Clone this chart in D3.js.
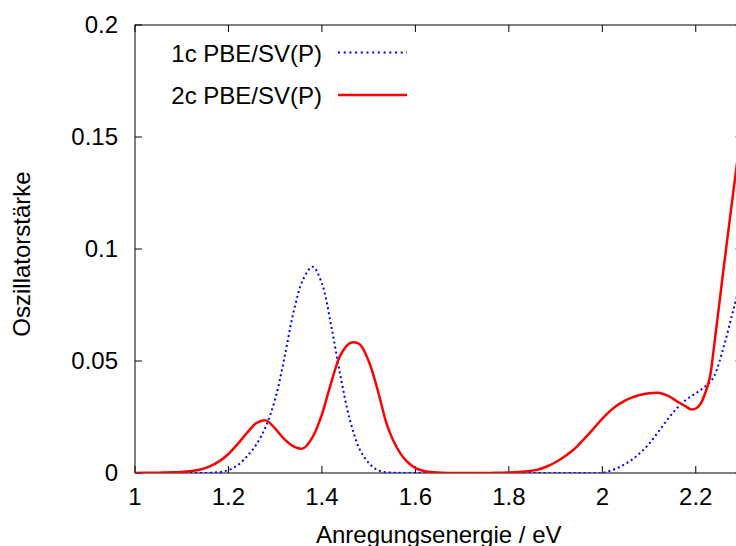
<!DOCTYPE html>
<html>
<head>
<meta charset="utf-8">
<script src="https://cdn.jsdelivr.net/npm/d3@7"></script>
<style>
  body { margin: 0; background: #fff; }
  text { font-family: "Liberation Sans", Arial, sans-serif; font-size: 24px; fill: #000; }
</style>
</head>
<body>
<div id="chart"></div>
<script>
// excitation energies (eV) shared by both spectra
const energies = [
  1.00, 1.02, 1.04, 1.06, 1.08, 1.10, 1.12, 1.14, 1.16, 1.18,
  1.20, 1.22, 1.24, 1.26, 1.28, 1.30, 1.32, 1.34, 1.36, 1.38,
  1.40, 1.42, 1.44, 1.46, 1.48, 1.50, 1.52, 1.54, 1.56, 1.58,
  1.60, 1.62, 1.64, 1.66, 1.68, 1.70, 1.72, 1.74, 1.76, 1.78,
  1.80, 1.82, 1.84, 1.86, 1.88, 1.90, 1.92, 1.94, 1.96, 1.98,
  2.00, 2.02, 2.04, 2.06, 2.08, 2.10, 2.12, 2.14, 2.16, 2.18,
  2.19, 2.20, 2.21, 2.22, 2.23, 2.24, 2.26, 2.28, 2.30,
];

// 1c PBE/SV(P) oscillator strengths
const osc1c = [
  0, 0, 0, 0, 0, 0, 0, 0, 0.0001, 0.0004,
  0.0013, 0.0035, 0.0075, 0.0128, 0.0208, 0.033, 0.0517, 0.0725, 0.0865, 0.0921,
  0.0846, 0.0655, 0.043, 0.0236, 0.011, 0.0045, 0.0012, 0.0003, 0.0001, 0,
  0, 0, 0, 0, 0, 0, 0, 0, 0, 0,
  0, 0, 0, 0, 0, 0, 0, 0, 0, 0,
  0, 0.0012, 0.003, 0.0054, 0.0088, 0.013, 0.0184, 0.024, 0.029, 0.0328,
  0.0342, 0.0356, 0.037, 0.0386, 0.0405, 0.0435, 0.0565, 0.0725, 0.088,
];

// 2c PBE/SV(P) oscillator strengths
const osc2c = [
  0, 0.0001, 0.0001, 0.0002, 0.0003, 0.0005, 0.0009, 0.0016, 0.003, 0.0052,
  0.0085, 0.013, 0.018, 0.0223, 0.0235, 0.0198, 0.015, 0.0118, 0.011, 0.016,
  0.0262, 0.0405, 0.0527, 0.058, 0.0576, 0.05, 0.0365, 0.021, 0.0115, 0.0055,
  0.0022, 0.0008, 0.0003, 0.0001, 0, 0, 0, 0, 0, 0.0001,
  0.0002, 0.0004, 0.0008, 0.0014, 0.0028, 0.0048, 0.0075, 0.0107, 0.015, 0.0195,
  0.0243, 0.0283, 0.0313, 0.0334, 0.0348, 0.0356, 0.0358, 0.0345, 0.032, 0.0295,
  0.0284, 0.0288, 0.0308, 0.0355, 0.0425, 0.058, 0.092, 0.125, 0.157,
];

const xTicks = [1, 1.2, 1.4, 1.6, 1.8, 2, 2.2];
const yTicks = [0, 0.05, 0.1, 0.15, 0.2];

const seriesNames = ["1c PBE/SV(P)", "2c PBE/SV(P)"];

const width = 736;
const height = 546;
const margin = { top: 25, left: 135, bottom: 73 };
const plotRight = 742.5; // right border sits just outside the picture

const x = d3.scaleLinear().domain([1, 2.3]).range([margin.left, plotRight]);
const y = d3.scaleLinear().domain([0, 0.2]).range([height - margin.bottom, margin.top]);

const svg = d3
  .select("#chart")
  .append("svg")
  .attr("width", width)
  .attr("height", height);

svg
  .append("defs")
  .append("clipPath")
  .attr("id", "plot-clip")
  .append("rect")
  .attr("x", x(1))
  .attr("y", y(0.2))
  .attr("width", x(2.3) - x(1))
  .attr("height", y(0) - y(0.2));

const tickLen = 7;

// ticks, mirrored on all four sides like gnuplot
const tickG = svg.append("g").attr("stroke", "#000").attr("stroke-width", 1);
xTicks.forEach((t) => {
  tickG.append("line")
    .attr("x1", x(t)).attr("x2", x(t))
    .attr("y1", y(0)).attr("y2", y(0) - tickLen);
  tickG.append("line")
    .attr("x1", x(t)).attr("x2", x(t))
    .attr("y1", y(0.2)).attr("y2", y(0.2) + tickLen);
});
yTicks.forEach((t) => {
  tickG.append("line")
    .attr("x1", x(1)).attr("x2", x(1) + tickLen)
    .attr("y1", y(t)).attr("y2", y(t));
  tickG.append("line")
    .attr("x1", x(2.3)).attr("x2", x(2.3) - tickLen)
    .attr("y1", y(t)).attr("y2", y(t));
});

svg
  .append("g")
  .selectAll("text.xtick")
  .data(xTicks)
  .join("text")
  .attr("class", "xtick")
  .attr("x", (d) => x(d))
  .attr("y", y(0) + 32)
  .attr("text-anchor", "middle")
  .text((d) => d);

svg
  .append("g")
  .selectAll("text.ytick")
  .data(yTicks)
  .join("text")
  .attr("class", "ytick")
  .attr("x", x(1) - 17)
  .attr("y", (d) => y(d))
  .attr("dy", "0.35em")
  .attr("text-anchor", "end")
  .text((d) => d);

// frame
svg
  .append("rect")
  .attr("x", x(1))
  .attr("y", y(0.2))
  .attr("width", x(2.3) - x(1))
  .attr("height", y(0) - y(0.2))
  .attr("fill", "none")
  .attr("stroke", "#000")
  .attr("stroke-width", 1);

// the x title is cut by the bottom edge in the original too
svg
  .append("text")
  .attr("text-anchor", "middle")
  .attr("x", (x(1) + x(2.3)) / 2)
  .attr("y", 543)
  .text("Anregungsenergie / eV");

svg
  .append("text")
  .attr("text-anchor", "middle")
  .attr("transform", `translate(30,${(y(0) + y(0.2)) / 2 + 5}) rotate(-90)`)
  .text("Oszillatorstärke");

const line = (values) =>
  d3
    .line()
    .x((d, i) => x(energies[i]))
    .y((d) => y(d))
    .curve(d3.curveCatmullRom.alpha(0.5))(values);

const curves = svg.append("g").attr("clip-path", "url(#plot-clip)");

curves
  .append("path")
  .attr("d", line(osc1c))
  .attr("fill", "none")
  .attr("stroke", "#0000ff")
  .attr("stroke-width", 2)
  .attr("stroke-dasharray", "2,3");

curves
  .append("path")
  .attr("d", line(osc2c))
  .attr("fill", "none")
  .attr("stroke", "#ff0000")
  .attr("stroke-width", 2.5)
  .attr("stroke-linejoin", "round");

// legend
const legendStyles = [
  { color: "#0000ff", width: 2, dash: "2,3.7", y: 52.5 },
  { color: "#ff0000", width: 2.5, dash: null, y: 95 },
];
seriesNames.forEach((name, i) => {
  const s = legendStyles[i];
  svg
    .append("text")
    .attr("x", 322)
    .attr("y", s.y + 9)
    .attr("text-anchor", "end")
    .text(name);
  svg
    .append("line")
    .attr("x1", 338)
    .attr("x2", 407)
    .attr("y1", s.y)
    .attr("y2", s.y)
    .attr("stroke", s.color)
    .attr("stroke-width", s.width)
    .attr("stroke-dasharray", s.dash);
});
</script>
</body>
</html>
